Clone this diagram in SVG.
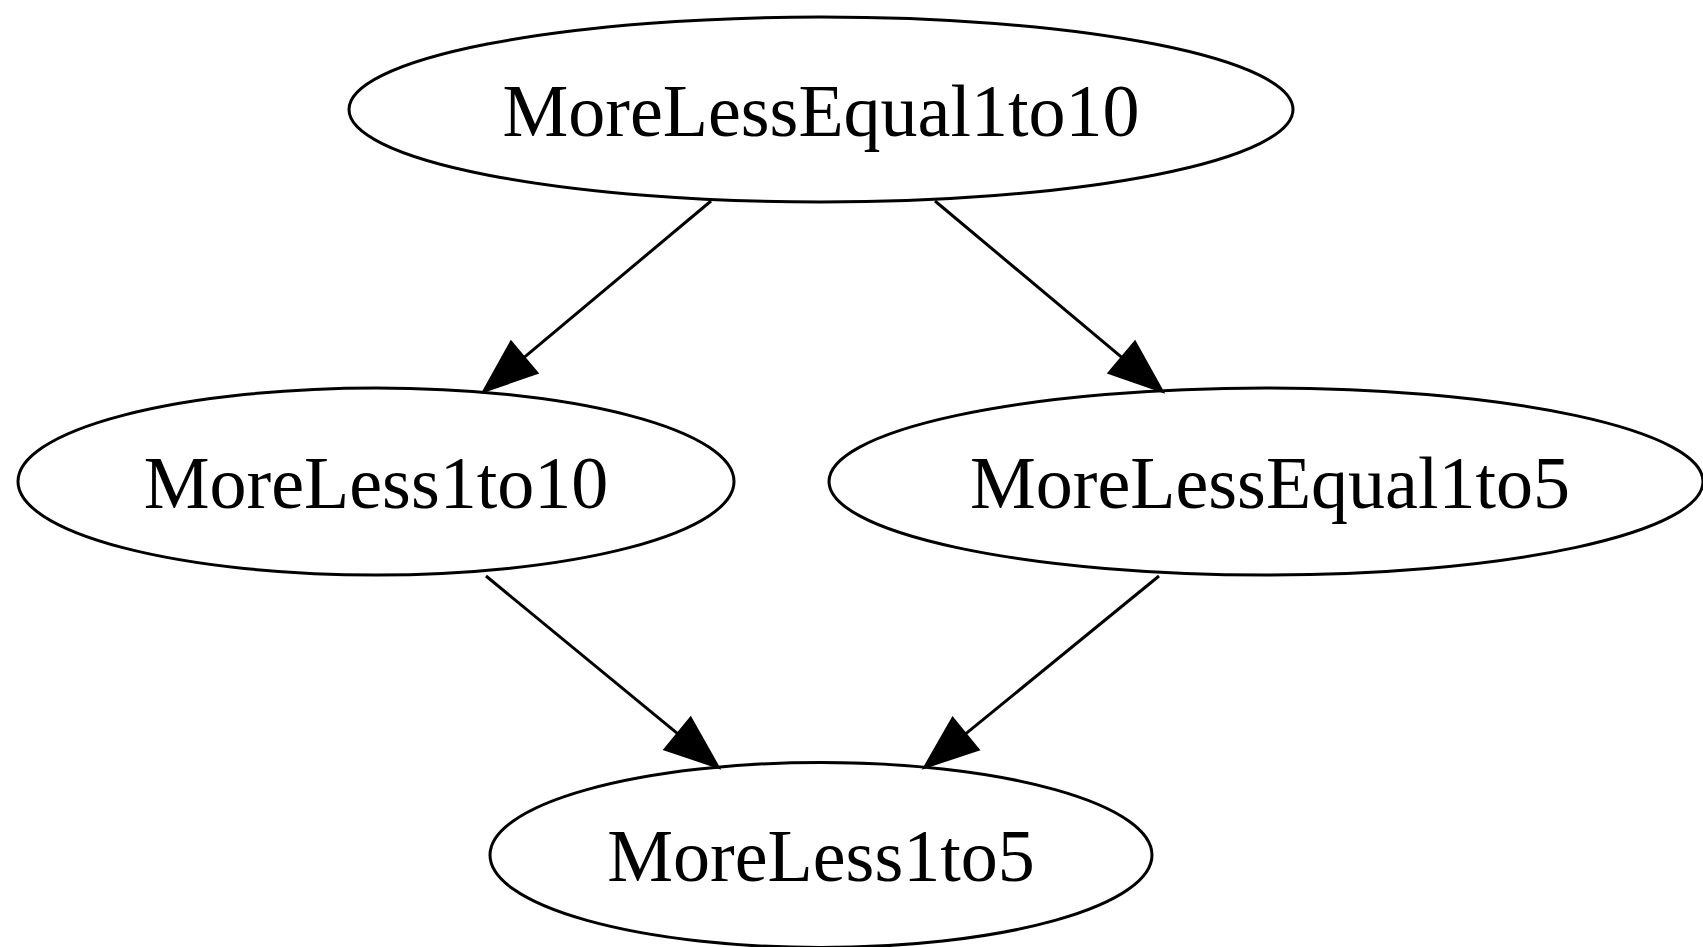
<svg xmlns="http://www.w3.org/2000/svg" width="1703" height="947" viewBox="0 0 1703 947">
<style>
.node ellipse{fill:none;stroke:#000;stroke-width:3}
.node text{font-family:"Liberation Serif","Times New Roman",serif;font-size:74px;text-anchor:middle;fill:#000}
.edge path{fill:none;stroke:#000;stroke-width:3}
.edge polygon{fill:#000;stroke:#000;stroke-width:3}
</style>
<rect width="1703" height="947" fill="#fff"/>
<g id="connectors">
<g class="edge"><path d="M711,201 L523.9,357.6"/><polygon points="484,391 536.7,372.9 511.1,342.3"/></g>
<g class="edge"><path d="M935,201 L1122.1,357.6"/><polygon points="1162,391 1109.3,372.9 1134.9,342.3"/></g>
<g class="edge"><path d="M486,576 L677.9,733.9"/><polygon points="718,767 665.2,749.3 690.6,718.5"/></g>
<g class="edge"><path d="M1159,576 L965.3,734.1"/><polygon points="925,767 977.9,749.6 952.7,718.6"/></g>
</g>
<g id="MoreLessEqual1to10" class="node"><ellipse cx="821" cy="109.5" rx="472" ry="92.5"/><text x="821" y="136">MoreLessEqual1to10</text></g>
<g id="MoreLess1to10" class="node"><ellipse cx="376" cy="481.5" rx="358" ry="93.5"/><text x="376" y="507.5">MoreLess1to10</text></g>
<g id="MoreLessEqual1to5" class="node"><ellipse cx="1266" cy="481.5" rx="437" ry="93.5"/><text x="1270" y="507.5">MoreLessEqual1to5</text></g>
<g id="MoreLess1to5" class="node"><ellipse cx="821" cy="855" rx="331" ry="92.5"/><text x="821" y="881">MoreLess1to5</text></g>
</svg>
